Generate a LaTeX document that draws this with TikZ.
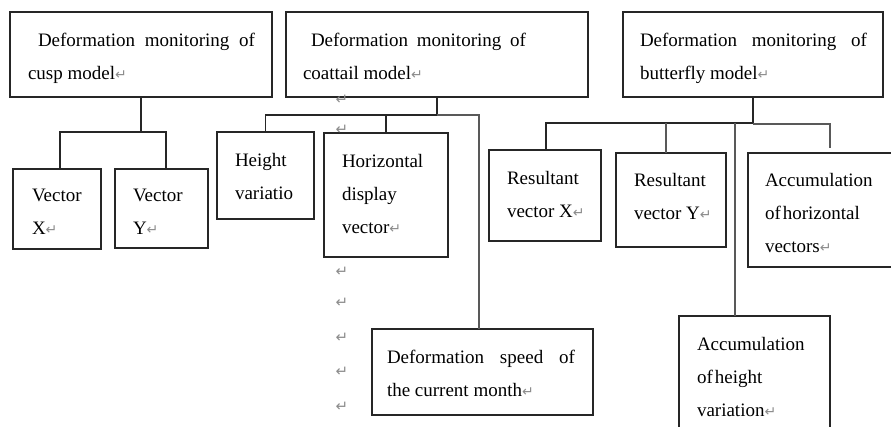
\documentclass[tikz,border=0pt]{standalone}
\usepackage{fontspec}
\setmainfont{Liberation Serif}
\newfontfamily\symfont{DejaVu Sans}
\usetikzlibrary{calc}

% grey paragraph mark
\newcommand\retmark{{\symfont\fontsize{14}{14}\selectfont\textcolor{black!45}{↵}}}
% box text: width, height, left pad, first baseline, lines
\newcommand\bxt[5]{\parbox[c][#2][t]{#1}{\raggedright\fontsize{19}{33}\selectfont\leftskip=#3\relax\rule{0pt}{#4}#5}}

\tikzset{
  box/.style={draw=black!85, line width=1.2pt, inner sep=0pt, outer sep=0pt, anchor=north west},
  conn/.style={draw=black!85, line width=1.1pt},
  gconn/.style={draw=black!65, line width=1.6pt},
  pm/.style={inner sep=0pt, text=black!45, font=\symfont\fontsize{15}{15}\selectfont}
}

\begin{document}
\begin{tikzpicture}[x=1pt, y=-1pt]
\useasboundingbox (0,0) rectangle (891,427);
\clip (0,0) rectangle (891,427);
\fill[white] (0,0) rectangle (891,427);

% top level models
\node[box] (cusp) at (10,12) {\bxt{262pt}{85pt}{18pt}{35pt}{\hspace*{10pt}\makebox[217pt][s]{Deformation monitoring of}\\cusp model\retmark}};
\node[box] (coat) at (286,12) {\bxt{302pt}{85pt}{17pt}{35pt}{\hspace*{8pt}\makebox[215pt][s]{Deformation monitoring of}\\coattail model\retmark}};
\node[box] (butt) at (623,12) {\bxt{260pt}{85pt}{17pt}{35pt}{\makebox[227pt][s]{Deformation monitoring of}\\butterfly model\retmark}};

% cusp branch
\node[box] (vx) at (13,169) {\bxt{88pt}{80pt}{19pt}{33pt}{Vector\\X\retmark}};
\node[box] (vy) at (115,169) {\bxt{93pt}{79pt}{18pt}{33pt}{Vector\\Y\retmark}};

% coattail branch
\node[box] (height) at (217,132) {\bxt{97pt}{87pt}{18pt}{35pt}{Height\\variatio}};
\node[box] (hdisp) at (324,133) {\bxt{124pt}{124pt}{18pt}{35pt}{Horizontal\\display\\vector\retmark}};
\node[box] (speed) at (372,329) {\bxt{221pt}{86pt}{15pt}{34pt}{\makebox[188pt][s]{Deformation speed of}\\the current month\retmark}};

% butterfly branch
\node[box] (rx) at (489,150) {\bxt{112pt}{91pt}{18pt}{35pt}{Resultant\\vector X\retmark}};
\node[box] (ry) at (616,153) {\bxt{110pt}{94pt}{18pt}{34pt}{Resultant\\vector Y\retmark}};
\node[box] (ahor) at (748,153) {\bxt{147pt}{114pt}{17pt}{34pt}{Accumulation\\of\hspace{2pt}horizontal\\vectors\retmark}};
\node[box] (aheight) at (679,316) {\bxt{151pt}{130pt}{18pt}{34pt}{Accumulation\\of\hspace{2pt}height\\variation\retmark}};

% connectors: cusp
\draw[conn] (cusp.south) -- ++(0,35) coordinate (cj);
\draw[conn] ([xshift=3pt]vx.north) |- (cj) -| ([xshift=4.5pt]vy.north);

% connectors: coattail
\draw[conn] (coat.south) -- ++(0,18) coordinate (tj);
\draw[conn] (height.north) |- (tj);
\draw[conn] (hdisp.north) -- (hdisp.north |- tj);
\draw[gconn] (tj) -| ([xshift=-3.5pt]speed.north);

% connectors: butterfly
\draw[conn] (butt.south) -- ++(0,26) coordinate (bj);
\draw[conn] ([xshift=1pt]rx.north) |- (bj);
\coordinate (rytop) at ([xshift=-5pt]ry.north);
\coordinate (ahtop) at ([xshift=-19.5pt]aheight.north);
\coordinate (ahortop) at ([xshift=8.5pt,yshift=5pt]ahor.north);
\draw[gconn] (rytop) -- (rytop |- bj);
\draw[gconn] (ahtop) -- (ahtop |- bj);
\draw[gconn] ([yshift=-1pt]bj) -| (ahortop);

% loose paragraph marks
\node[pm] (pm1) at (342,100) {↵};
\node[pm] (pm2) at (342,130) {↵};
\node[pm] (pm3) at (342,272) {↵};
\node[pm] (pm4) at (342,303) {↵};
\node[pm] (pm5) at (342,338) {↵};
\node[pm] (pm6) at (342,372) {↵};
\node[pm] (pm7) at (342,407) {↵};
\end{tikzpicture}
\end{document}
